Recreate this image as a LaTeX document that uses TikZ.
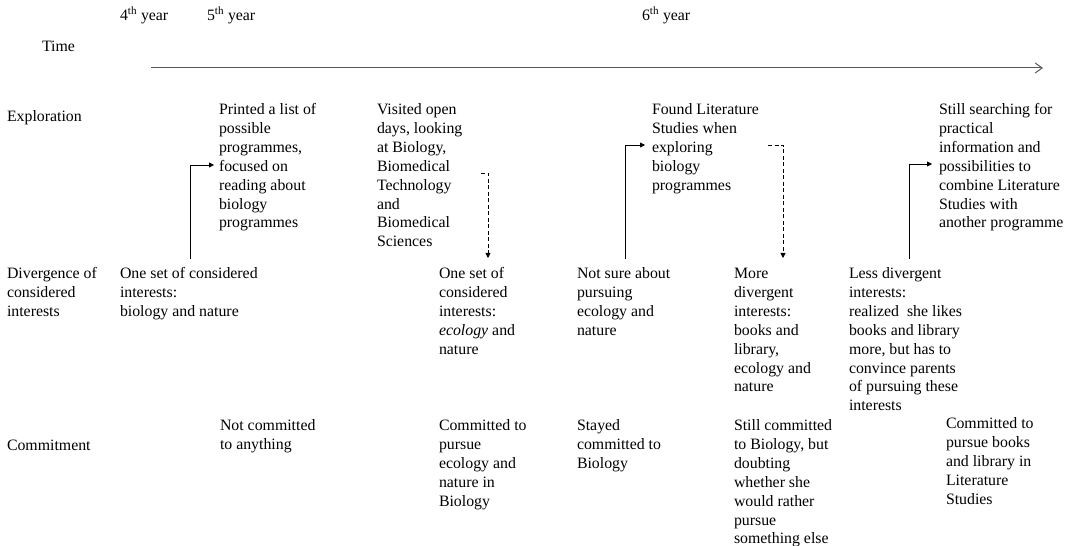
\documentclass[tikz,border=0pt]{standalone}
\usepackage{fontspec}
\setmainfont{Liberation Serif}
\usetikzlibrary{arrows.meta}
\begin{document}
\begin{tikzpicture}[x=1bp,y=-1bp,
  tx/.style={anchor=north west,inner sep=0pt,outer sep=0pt,align=left,yshift=13.3bp,
     font=\fontsize{15.9}{18.9}\selectfont},
  link/.style={line width=0.8pt,-{Triangle[length=5bp,width=5bp]}},
  dlink/.style={line width=0.8pt,dash pattern=on 4bp off 2.5bp,-{Triangle[length=5bp,width=5bp]}},
  timeline/.style={line width=1pt,draw=black!65,-{Straight Barb[length=7bp,width=10bp,line width=1pt]}}]
\useasboundingbox (0,0) rectangle (1071,546);
% header
\node[tx] (y4) at (120,20) {\strut 4\textsuperscript{th} year};
\node[tx] (y5) at (207,20) {\strut 5\textsuperscript{th} year};
\node[tx] (y6) at (642,20) {\strut 6\textsuperscript{th} year};
\node[tx] (time) at (42,52) {\strut Time};
\coordinate (ts) at (151,68);
\coordinate (te) at (1043,68);
\draw[timeline] (ts) -- (te);
% row labels
\node[tx] (lexp) at (7,122) {\strut Exploration};
\node[tx] (ldiv) at (7,279) {\strut Divergence of\\considered\\interests};
\node[tx] (lcom) at (7,451) {\strut Commitment};
% exploration
\node[tx] (e1) at (219,115) {\strut Printed a list of\\possible\\programmes,\\focused on\\reading about\\biology\\programmes};
\node[tx] (e2) at (377,115) {\strut Visited open\\days, looking\\at Biology,\\Biomedical\\Technology\\and\\Biomedical\\Sciences};
\node[tx] (e3) at (652,115) {\strut Found Literature\\Studies when\\exploring\\biology\\programmes};
\node[tx] (e4) at (939,115) {\strut Still searching for\\practical\\information and\\possibilities to\\combine Literature\\Studies with\\another programme};
% divergence
\node[tx] (d1) at (120,279) {\strut One set of considered\\interests:\\biology and nature};
\node[tx] (d2) at (439,279) {\strut One set of\\considered\\interests:\\\emph{ecology} and\\nature};
\node[tx] (d3) at (577,279) {\strut Not sure about\\pursuing\\ecology and\\nature};
\node[tx] (d4) at (734,279) {\strut More\\divergent\\interests:\\books and\\library,\\ecology and\\nature};
\node[tx] (d5) at (849,279) {\strut Less divergent\\interests:\\realized\ \ she likes\\books and library\\more, but has to\\convince parents\\of pursuing these\\interests};
% commitment
\node[tx] (c1) at (220,431) {\strut Not committed\\to anything};
\node[tx] (c2) at (439,431) {\strut Committed to\\pursue\\ecology and\\nature in\\Biology};
\node[tx] (c3) at (577,431) {\strut Stayed\\committed to\\Biology};
\node[tx] (c4) at (734,431) {\strut Still committed\\to Biology, but\\doubting\\whether she\\would rather\\pursue\\something else};
\node[tx] (c5) at (946,429) {\strut Committed to\\pursue books\\and library in\\Literature\\Studies};
% connectors
\coordinate (a1s) at (190,259);
\coordinate (a1e) at (214,165);
\draw[link] (a1s) |- (a1e);
\coordinate (b1s) at (481,173);
\coordinate (b1e) at (488,258);
\draw[dlink] (b1s) -| (b1e);
\coordinate (a2s) at (625,259);
\coordinate (a2e) at (645,145);
\draw[link] (a2s) |- (a2e);
\coordinate (b2s) at (768,145);
\coordinate (b2e) at (783,258);
\draw[dlink] (b2s) -| (b2e);
\coordinate (a3s) at (909,259);
\coordinate (a3e) at (932,164);
\draw[link] (a3s) |- (a3e);
\end{tikzpicture}
\end{document}
